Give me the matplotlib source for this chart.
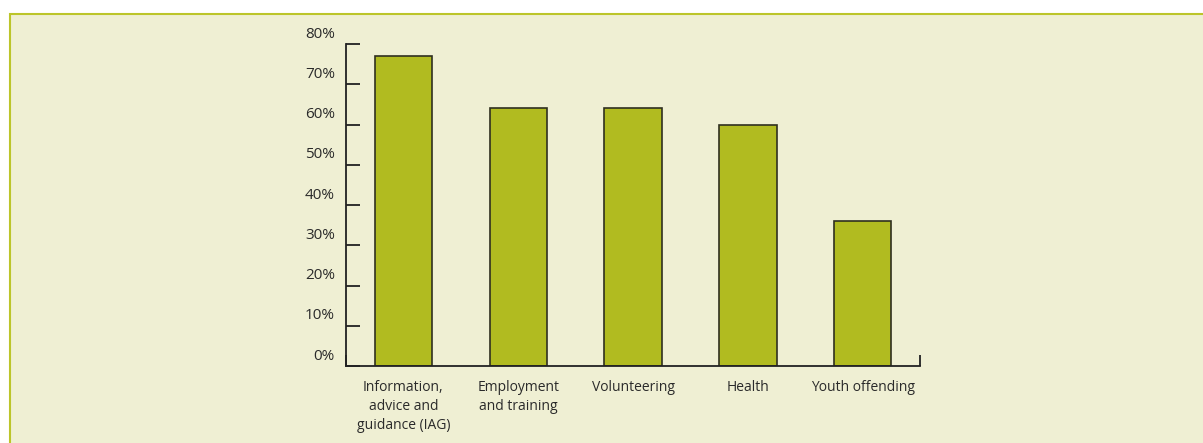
import matplotlib
matplotlib.use('Agg')
import matplotlib.pyplot as plt
from matplotlib.patches import Rectangle
from matplotlib.transforms import ScaledTranslation

categories = ['Information,\nadvice and\nguidance (IAG)', 'Employment\nand training',
              'Volunteering', 'Health', 'Youth offending']
values = [77, 64, 64, 60, 36]
y_ticks = [0, 10, 20, 30, 40, 50, 60, 70, 80]

plt.rcParams['font.family'] = ['Open Sans', 'DejaVu Sans']
W, H = 1203, 443
fig = plt.figure(figsize=(W / 100, H / 100), dpi=100)
fig.patch.set_facecolor('white')

# cream panel with olive border (behind the axes)
fig.patches.append(Rectangle((10 / W, -0.1), 1.2, 1 - 14 / H + 0.1, transform=fig.transFigure,
                             facecolor='#efefd3', edgecolor='#bcc52a', linewidth=1.5, zorder=-5))

ax = fig.add_axes([346 / W, 1 - 366 / H, (920 - 346) / W, (366 - 44) / H])
ax.set_facecolor('none')
ax.set_zorder(2)

x = list(range(len(categories)))
ax.bar(x, values, width=0.5, color='#b1bb20', edgecolor='#2f2f1f', linewidth=1.2, zorder=2)

ax.set_xlim(-0.5, 4.5)
ax.set_ylim(0, 80)
for s in ['top', 'right']:
    ax.spines[s].set_visible(False)
for s in ['left', 'bottom']:
    ax.spines[s].set_color('#222222')
    ax.spines[s].set_linewidth(1.3)

ax.set_yticks(y_ticks)
ax.set_yticklabels([f'{v}%' for v in y_ticks], fontsize=11, color='#2a2a2a')
ax.tick_params(axis='y', direction='in', length=10, width=1.3, color='#222222', pad=8)
# labels sit a bit above their ticks in the original
off = ScaledTranslation(0, 12 / 100, fig.dpi_scale_trans)
for lab in ax.get_yticklabels():
    lab.set_transform(lab.get_transform() + off)

ax.set_xticks([-0.5, 4.5])
ax.set_xticklabels(['', ''])
ax.tick_params(axis='x', which='major', direction='in', length=8, width=1.3, color='#222222')
ax.set_xticks(x, minor=True)
ax.set_xticklabels(categories, minor=True, fontsize=10, color='#2a2a2a', linespacing=1.35)
ax.tick_params(axis='x', which='minor', length=0, pad=10)

fig.savefig('out.png', dpi=100)
